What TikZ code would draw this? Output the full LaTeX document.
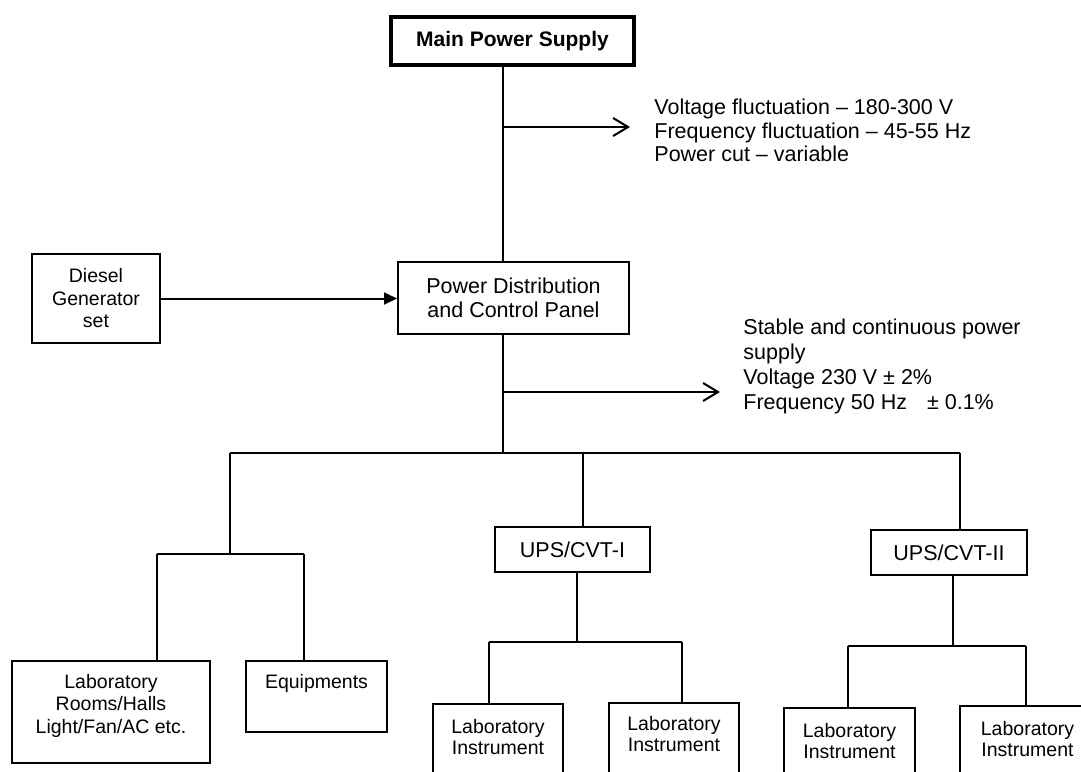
\documentclass[tikz,border=0pt]{standalone}
\usepackage{fontspec}
\setmainfont{Liberation Sans}
\usetikzlibrary{arrows.meta}
\newcommand{\tbox}[4]{\parbox[c][#2][t]{#1}{\centering\rule{0pt}{#3}#4}}
\begin{document}
\begin{tikzpicture}[x=0.5pt,y=-0.5pt,
  conn/.style={line width=1pt},
  openarrow/.style={conn,-{Straight Barb[length=7.5pt,width=9pt]}},
  fillarrow/.style={conn,-{Triangle[length=6.5pt,width=6pt]}},
  stdbox/.style={draw,line width=1pt,inner sep=0pt,align=center},
  topbox/.style={draw,line width=1pt,inner sep=0pt,anchor=north west},
  bigtext/.style={font=\fontsize{10.75}{12}\selectfont},
  smalltext/.style={font=\fontsize{9.75}{11.25}\selectfont},
  instrtext/.style={font=\fontsize{9.75}{10.5}\selectfont},
  note/.style={align=left,inner sep=0pt,anchor=west}]
\useasboundingbox (0,0) rectangle (1081,771);
\clip (0,0) rectangle (1081,771);

% boxes
\node[draw,line width=2pt,minimum width=121.5pt,minimum height=24pt,inner sep=0pt,
      font=\bfseries\fontsize{10.5}{12}\selectfont] (main) at (512.5,41) {Main Power Supply};
\node[stdbox,smalltext,minimum width=64pt,minimum height=44.5pt] (diesel) at (96,298.5) {Diesel\\Generator\\set};
\node[stdbox,bigtext,minimum width=115.5pt,minimum height=36pt] (pd) at (513.5,298) {Power Distribution\\and Control Panel};
\node[stdbox,bigtext,minimum width=77.5pt,minimum height=22.5pt] (ups1) at (572.5,549.5) {UPS/CVT-I};
\node[stdbox,bigtext,minimum width=78pt,minimum height=22.5pt] (ups2) at (949,552.5) {UPS/CVT-II};

\node[topbox,smalltext] (rooms) at (11,660) {\tbox{99pt}{51pt}{13.5pt}{Laboratory\\Rooms/Halls\\Light/Fan/AC etc.}};
\node[topbox,smalltext] (equip) at (245,660) {\tbox{70.5pt}{35.5pt}{13.5pt}{Equipments}};
\node[topbox,instrtext] (li1) at (432,703) {\tbox{65pt}{48.5pt}{14.5pt}{Laboratory\\Instrument}};
\node[topbox,instrtext] (li2) at (608,702) {\tbox{65pt}{49pt}{13.5pt}{Laboratory\\Instrument}};
\node[topbox,instrtext] (li3) at (783,707) {\tbox{65.5pt}{47pt}{14.5pt}{Laboratory\\Instrument}};
\node[topbox,instrtext] (li4) at (959,705) {\tbox{67.5pt}{48pt}{14.5pt}{Laboratory\\Instrument}};

% notes
\node[note,font=\fontsize{10.75}{11.75}\selectfont] (n1) at (654,130.5)
  {Voltage fluctuation – 180-300 V\\Frequency fluctuation – 45-55 Hz\\Power cut – variable};
\node[note,font=\fontsize{10.75}{12.5}\selectfont] (n2) at (743,366.5)
  {Stable and continuous power\\supply\\Voltage 230 V ± 2\%\\Frequency 50 Hz\hspace{10pt}± 0.1\%};

% trunk
\coordinate (tr) at (502.5,0);
\draw[conn] (main.south -| tr) -- (pd.north -| tr);
\coordinate (j1) at (502.5,127);
\coordinate (e1) at (630,127);
\draw[openarrow] (j1) -- (e1);
\draw[fillarrow] (diesel.east) -- (diesel.east -| pd.west);
\coordinate (bus) at (502.5,453);
\draw[conn] (pd.south -| tr) -- (bus);
\coordinate (j2) at (502.5,392);
\coordinate (e2) at (720,392);
\draw[openarrow] (j2) -- (e2);

% main bus
\coordinate (bl) at (230,453);
\coordinate (br) at (960,453);
\coordinate (b1) at (583,453);
\draw[conn] (bl) -- (br);
\draw[conn] (b1) -- (b1 |- ups1.north);
\draw[conn] (br) -- (br |- ups2.north);

% left branch
\coordinate (ls) at (230,554);
\coordinate (lsl) at (157,554);
\coordinate (lsr) at (304,554);
\draw[conn] (bl) -- (ls);
\draw[conn] (lsl) -- (lsr);
\draw[conn] (lsl) -- (lsl |- rooms.north);
\draw[conn] (lsr) -- (lsr |- equip.north);

% UPS I branch
\coordinate (u1) at (577,642);
\coordinate (u1l) at (489,642);
\coordinate (u1r) at (682,642);
\draw[conn] (u1 |- ups1.south) -- (u1);
\draw[conn] (u1l) -- (u1r);
\draw[conn] (u1l) -- (u1l |- li1.north);
\draw[conn] (u1r) -- (u1r |- li2.north);

% UPS II branch
\coordinate (u2) at (953,646);
\coordinate (u2l) at (848,646);
\coordinate (u2r) at (1026,646);
\draw[conn] (u2 |- ups2.south) -- (u2);
\draw[conn] (u2l) -- (u2r);
\draw[conn] (u2l) -- (u2l |- li3.north);
\draw[conn] (u2r) -- (u2r |- li4.north);
\end{tikzpicture}
\end{document}
